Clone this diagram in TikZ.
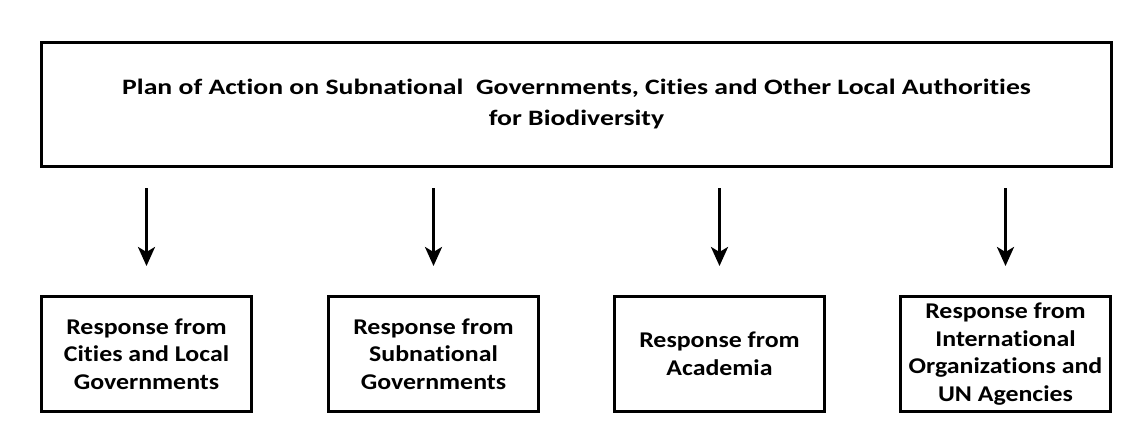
\documentclass[tikz,border=0pt]{standalone}
\usepackage{fontspec}
\setmainfont{Carlito}[Ligatures=NoCommon]
\newfontfamily\planfont{Carlito}[Ligatures=NoCommon, FakeStretch=1.26]
\newfontfamily\respfont{Carlito}[Ligatures=NoCommon, FakeStretch=1.15]
\usetikzlibrary{arrows.meta, positioning}
\tikzset{plan/.style = {draw, line width=3pt, minimum width=1070pt, minimum height=124pt, align=center, font=\planfont\bfseries\fontsize{22}{31}\selectfont}}
\tikzset{response/.style = {draw, line width=3pt, minimum width=210pt, minimum height=115pt, align=center, font=\respfont\bfseries\fontsize{22.5}{27.5}\selectfont}}
\tikzset{down/.style = {-{Stealth[length=19pt, width=17pt, inset=5pt]}, line width=3pt, shorten <=20pt, shorten >=29pt}}

\begin{document}
\begin{tikzpicture}[x=1pt, y=-1pt]
\useasboundingbox (0,0) rectangle (1126,428);
\node[plan] (P) at (576.5,104.5) {Plan of Action on Subnational\ \ Governments, Cities and Other Local Authorities\\for Biodiversity};
\node[response] (C) at (146.5,354) {Response from\\Cities and Local\\Governments};
\node[response] (S) at (433.5,354) {Response from\\Subnational\\Governments};
\node[response] (A) at (719.5,354) {Response from\\Academia};
\node[response] (U) at (1005.5,354) {Response from\\International\\Organizations and\\UN Agencies};
\foreach \n in {C,S,A,U}
  \draw[down] (P.south -| \n.north) -- (\n.north);
\end{tikzpicture}
\end{document}
